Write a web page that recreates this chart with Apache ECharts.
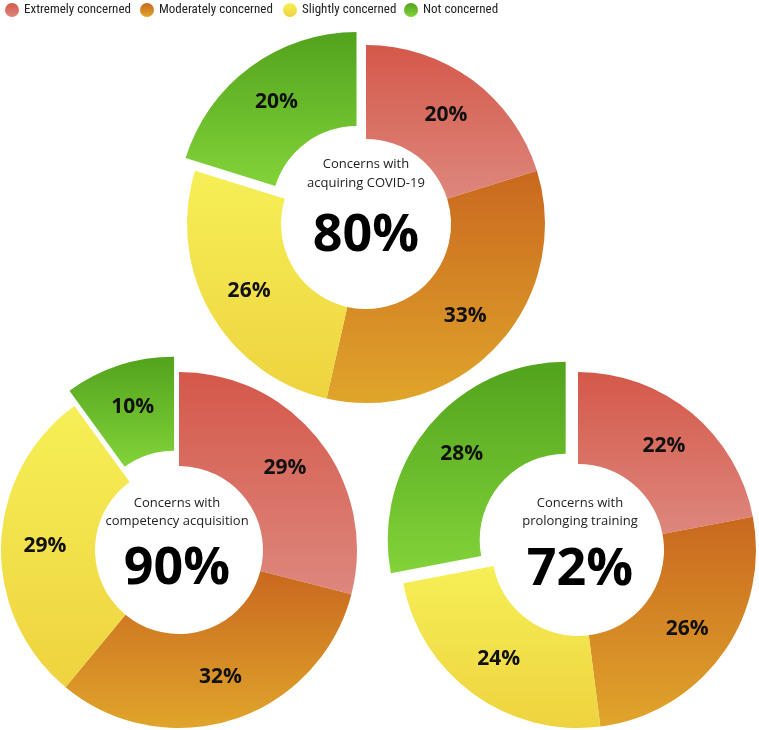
<!DOCTYPE html>
<html>
<head>
<meta charset="utf-8">
<script src="https://cdn.jsdelivr.net/npm/echarts@6/dist/echarts.min.js"></script>
<style>
html,body{margin:0;padding:0;background:#fff;}
#chart{width:759px;height:730px;}
</style>
</head>
<body>
<div id="chart"></div>
<script>
const categories = ['Extremely concerned', 'Moderately concerned', 'Slightly concerned', 'Not concerned'];
const covidValues = [20, 33, 26, 20];
const competencyValues = [29, 32, 29, 10];
const trainingValues = [22, 26, 24, 28];
const chartTitles = [['Concerns with', 'acquiring COVID-19'], ['Concerns with', 'competency acquisition'], ['Concerns with', 'prolonging training']];
const totals = ['80%', '90%', '72%'];
const explodedCategory = 'Not concerned';

const gradTop = ['#d4584a', '#c9681f', '#f6ef57', '#52a31d'];
const gradBottom = ['#de877d', '#e0a52b', '#eed33f', '#82d339'];

const font = "'Open Sans', 'Noto Sans', sans-serif";

function grad(i) {
  return new echarts.graphic.LinearGradient(0, 0, 0, 1, [
    { offset: 0, color: gradTop[i] },
    { offset: 1, color: gradBottom[i] }
  ]);
}

function makeData(values) {
  return categories.map((name, i) => ({
    name: name,
    value: values[i],
    selected: name === explodedCategory,
    itemStyle: { color: grad(i) }
  }));
}

const layouts = [
  { center: [366, 224], r: [85, 179], t1: 164, t2: 183, big: 236, cx: 366 },
  { center: [179, 550], r: [84, 178], t1: 503, t2: 521, big: 569, cx: 177 },
  { center: [578, 550], r: [86, 178], t1: 503, t2: 521, big: 570, cx: 580 }
];
const valueSets = [covidValues, competencyValues, trainingValues];

const series = valueSets.map((vals, k) => ({
  type: 'pie',
  center: layouts[k].center,
  radius: layouts[k].r,
  startAngle: 90,
  clockwise: true,
  selectedMode: 'single',
  selectedOffset: 16,
  avoidLabelOverlap: false,
  emphasis: { disabled: true },
  select: { itemStyle: {} },
  label: {
    show: true,
    position: 'inside',
    rotate: 0,
    formatter: '{c}%',
    fontFamily: font,
    fontWeight: 'bold',
    fontSize: 21,
    color: '#111'
  },
  labelLine: { show: false },
  data: makeData(vals)
}));

const graphics = [];
layouts.forEach((L, k) => {
  graphics.push({ type: 'text', x: L.cx, y: L.t1, style: { text: chartTitles[k][0], fontFamily: font, fontSize: 13, fill: '#222', align: 'center', verticalAlign: 'middle' } });
  graphics.push({ type: 'text', x: L.cx, y: L.t2, style: { text: chartTitles[k][1], fontFamily: font, fontSize: 13, fill: '#222', align: 'center', verticalAlign: 'middle' } });
  graphics.push({ type: 'text', x: L.cx, y: L.big, style: { text: totals[k], fontFamily: font, fontSize: 52, fontWeight: 'bold', fill: '#000', align: 'center', verticalAlign: 'middle' } });
});

const legendLefts = [5, 140, 283, 404];
const legends = categories.map((name, i) => ({
  data: [name],
  left: legendLefts[i],
  top: 3,
  padding: 0,
  icon: 'circle',
  itemWidth: 14,
  itemHeight: 14,
  itemGap: 0,
  selectedMode: false,
  textStyle: { fontFamily: "'Liberation Sans Narrow', 'Roboto Condensed', 'Roboto', sans-serif", fontSize: 13, color: '#222', padding: [0, 0, 0, 0] }
}));

const chart = echarts.init(document.getElementById('chart'));
chart.setOption({
  animation: false,
  backgroundColor: '#fff',
  legend: legends,
  series: series,
  graphic: graphics
});
</script>
</body>
</html>
